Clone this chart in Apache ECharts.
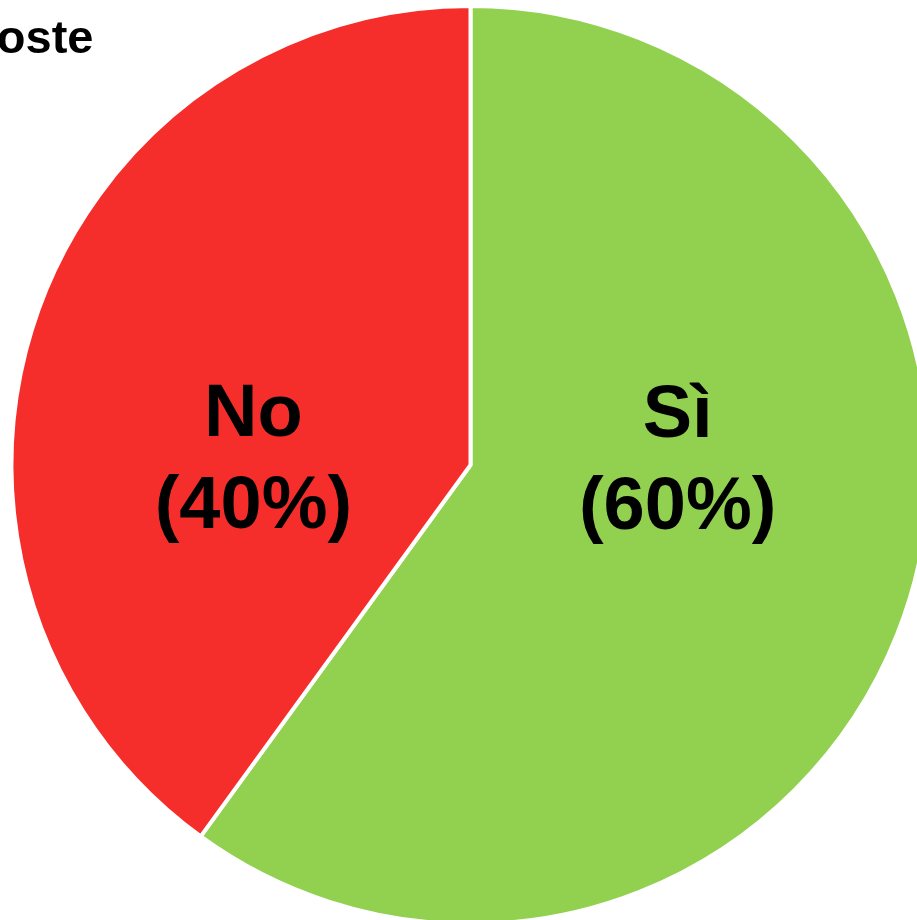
<!DOCTYPE html>
<html>
<head>
<meta charset="utf-8">
<script src="https://cdn.jsdelivr.net/npm/echarts@6/dist/echarts.min.js"></script>
<style>
  html, body { margin: 0; padding: 0; background: #ffffff; }
  #chart { width: 917px; height: 920px; }
</style>
</head>
<body>
<div id="chart"></div>
<script>
// Answer categories and their shares (percent)
const categories = ['Sì', 'No'];
const values = [60, 40];
const sliceColors = ['#92D050', '#F52E2C'];
const labelOffsets = [[-14, -74], [4, 68]];
const chartTitle = 'Risposte';

const chart = echarts.init(document.getElementById('chart'), null, { renderer: 'canvas' });

const data = categories.map((name, i) => ({
  name: name,
  value: values[i],
  itemStyle: { color: sliceColors[i] },
  label: { offset: labelOffsets[i] }
}));

chart.setOption({
  animation: false,
  backgroundColor: '#ffffff',
  title: {
    text: chartTitle,
    left: -110,
    top: 12,
    textStyle: {
      fontFamily: 'Liberation Sans, Arial, sans-serif',
      fontWeight: 'bold',
      fontSize: 47,
      color: '#000000'
    }
  },
  series: [{
    type: 'pie',
    center: [470.5, 465],
    radius: 459,
    startAngle: 90,
    clockwise: true,
    avoidLabelOverlap: false,
    itemStyle: { borderColor: '#ffffff', borderWidth: 4 },
    label: {
      show: true,
      position: 'inside',
      formatter: p => p.name + '\n(' + p.value + '%)',
      fontFamily: 'Liberation Sans, Arial, sans-serif',
      fontWeight: 'bold',
      fontSize: 74,
      lineHeight: 92,
      color: '#000000',
      align: 'center'
    },
    labelLine: { show: false },
    emphasis: { disabled: true },
    data: data
  }]
});
</script>
</body>
</html>
